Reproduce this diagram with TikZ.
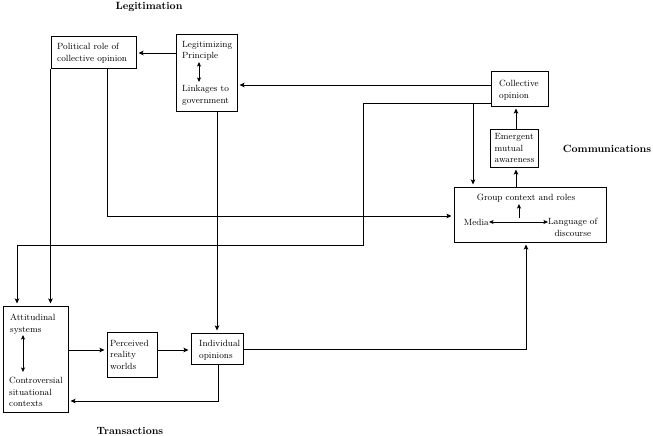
\documentclass[tikz,border=0pt]{standalone}
\usetikzlibrary{arrows.meta}
\begin{document}
\begin{tikzpicture}[x=1pt,y=-1pt,
  box/.style={draw,line width=1pt,inner sep=0pt,minimum width=#1},
  txt/.style={inner sep=0pt,align=left,font=\fontsize{9}{11.5}\selectfont},
  head/.style={inner sep=0pt,font=\fontsize{10.5}{12}\selectfont\bfseries},
  arr/.style={line width=0.8pt,-{Stealth[length=5pt,width=4.5pt,inset=1pt]},shorten >=2pt},
  darr/.style={line width=0.8pt,{Stealth[length=4.5pt,width=4pt,inset=1pt]}-{Stealth[length=4.5pt,width=4pt,inset=1pt]}},
  ln/.style={line width=0.8pt}]
\useasboundingbox (0,0) rectangle (653,436);
% headings
\node[head] (hleg) at (149,7) {Legitimation};
\node[head] (hcom) at (607,149) {Communications};
\node[head] (htra) at (130,431) {Transactions};
% boxes
\node[box=85pt,minimum height=32pt] (pol) at (93.5,53) {};
\node[box=61pt,minimum height=76pt] (leg) at (206.5,73) {};
\node[box=57pt,minimum height=34pt] (coll) at (519.5,89) {};
\node[box=48pt,minimum height=38pt] (emer) at (514,148) {};
\node[box=152pt,minimum height=55pt] (grp) at (530,214.5) {};
\node[box=65pt,minimum height=106pt] (att) at (35.5,359) {};
\node[box=50pt,minimum height=45pt] (perc) at (132,354.5) {};
\node[box=52pt,minimum height=31pt] (ind) at (217,348.5) {};
% texts
\node[txt,anchor=west] (tpol) at (57,53) {Political role of\\collective opinion};
\node[txt,anchor=west] (tleg1) at (182,51) {Legitimizing\\Principle};
\node[txt,anchor=west] (tleg2) at (182,95.5) {Linkages to\\government};
\node[txt,anchor=west] (tcoll) at (499,90) {Collective\\opinion};
\node[txt,anchor=west] (temer) at (494.5,148) {Emergent\\mutual\\awareness};
\node[txt] (tgrp) at (526,198) {Group context and roles};
\node[txt,anchor=east] (tmed) at (489,222) {Media};
\node[txt,anchor=west,align=center] (tlang) at (548,227.5) {Language of\\discourse};
\node[txt,anchor=west] (tatt1) at (10,324) {Attitudinal\\systems};
\node[txt,anchor=west] (tatt2) at (9,392) {Controversial\\situational\\contexts};
\node[txt,anchor=west] (tperc) at (110,354.5) {Perceived\\reality\\worlds};
\node[txt,anchor=west] (tind) at (199,350) {Individual\\opinions};
% inner arrows
\coordinate (d1) at (199,62); \coordinate (d2) at (199,82);
\draw[darr] (d1) -- (d2);
\coordinate (d3) at (23,335); \coordinate (d4) at (23,372);
\draw[darr] (d3) -- (d4);
\coordinate (u1) at (519,218); \coordinate (u2) at (519,204);
\draw[ln,-{Stealth[length=4.5pt,width=4pt,inset=1pt]}] (u1) -- (u2);
\draw[darr] (tmed.east) -- (tlang.west |- tmed.east);
% connectors
\coordinate (v1) at (516,0);
\draw[arr] (v1 |- grp.north) -- (v1 |- emer.south);
\draw[arr] (v1 |- emer.north) -- (v1 |- coll.south);
\draw[arr] (leg.west |- pol.east) -- (pol.east);
\draw[arr] ([yshift=4pt]coll.west) coordinate (c1) -- (c1 -| leg.east);
\coordinate (c2) at (491,103);
\coordinate (k1) at (363,103);
\coordinate (k2) at (363,245);
\coordinate (k3) at (17,245);
\coordinate (k4) at (473,103);
\draw[arr] (c2) -- (k1) -- (k2) -- (k3) -- (k3 |- att.north);
\draw[arr] (k4) -- (k4 |- grp.north);
\draw[arr] (pol.south west) -- (pol.south west |- att.north);
\coordinate (p1) at (107,216);
\draw[arr] (p1 |- pol.south) -- (p1) -- (p1 -| grp.west);
\draw[arr] (leg.south -| ind.north) -- (ind.north);
\coordinate (r1) at (0,350);
\draw[arr] (att.east |- r1) -- (perc.west |- r1);
\draw[arr] (perc.east |- r1) -- (ind.west |- r1);
\coordinate (g1) at (526,349);
\draw[arr] (ind.east |- g1) -- (g1) -- (g1 |- grp.south);
\coordinate (b1) at (218,401);
\draw[arr] (b1 |- ind.south) -- (b1) -- (b1 -| att.east);
\end{tikzpicture}
\end{document}
